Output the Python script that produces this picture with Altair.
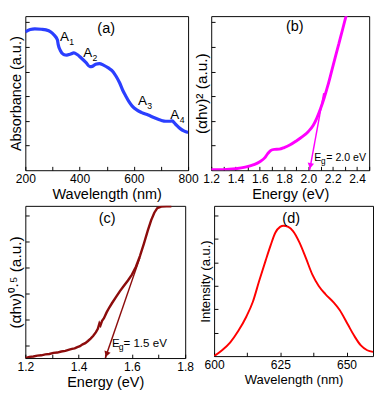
import altair as alt
import pandas as pd

FONT = "Liberation Sans"
TS = 4  # inward tick length

# ---------------- (a) absorbance ----------------
a_wavelength = [200, 218, 235, 259, 276, 294, 306, 318, 321, 329, 341, 353, 365, 379, 391, 406,
                424, 438, 447, 459, 473, 488, 506, 524, 535, 547, 559, 571, 582, 594, 612, 629,
                653, 676, 700, 718, 732, 741, 753, 771, 786, 800]
a_absorbance = [0.897, 0.913, 0.917, 0.915, 0.911, 0.897, 0.877, 0.847, 0.817, 0.777, 0.751,
                0.747, 0.753, 0.761, 0.751, 0.728, 0.698, 0.672, 0.674, 0.688, 0.692, 0.682,
                0.664, 0.638, 0.608, 0.569, 0.519, 0.479, 0.445, 0.416, 0.390, 0.374, 0.358,
                0.340, 0.324, 0.318, 0.318, 0.320, 0.300, 0.270, 0.254, 0.245]
a_peak_wl = [344, 430, 632, 751]
a_peak_y = [0.862, 0.760, 0.447, 0.355]
a_peak_main = ["A", "A", "A", "A"]
a_peak_sub = ["1", "2", "3", "4"]

# ---------------- (b) (alpha h nu)^2 ----------------
b_energy = [1.20, 1.30, 1.40, 1.48, 1.55, 1.60, 1.64, 1.665, 1.69, 1.72, 1.76, 1.80, 1.85,
            1.90, 1.95, 2.00, 2.04, 2.07, 2.10, 2.13, 2.16, 2.19, 2.22, 2.25, 2.28, 2.31, 2.33]
b_value = [0.003, 0.004, 0.010, 0.020, 0.036, 0.055, 0.080, 0.108, 0.128, 0.135, 0.137, 0.147,
           0.165, 0.190, 0.218, 0.252, 0.292, 0.340, 0.400, 0.470, 0.550, 0.640, 0.730, 0.820,
           0.910, 1.000, 1.050]
b_fit_energy = [2.126, 2.01]
b_fit_value = [0.50, 0.0]
b_head_energy = [2.016]
b_head_value = [0.028]
b_eg_energy = [2.048]
b_eg_value = [0.077]

# ---------------- (c) (alpha h nu)^0.5 ----------------
c_energy = [1.200, 1.215, 1.230, 1.245, 1.260, 1.275, 1.290, 1.305, 1.320, 1.335, 1.350, 1.365,
            1.375, 1.385, 1.395, 1.405, 1.415, 1.425, 1.435, 1.445, 1.455, 1.465, 1.472, 1.478,
            1.482, 1.488, 1.495, 1.505, 1.515, 1.525, 1.540, 1.555, 1.570, 1.585, 1.600, 1.615,
            1.630, 1.645, 1.660, 1.672, 1.684, 1.695, 1.710, 1.730, 1.748]
c_value = [0.000, 0.008, 0.010, 0.016, 0.018, 0.024, 0.027, 0.034, 0.036, 0.043, 0.047, 0.055,
           0.060, 0.064, 0.072, 0.078, 0.090, 0.098, 0.112, 0.128, 0.146, 0.170, 0.192, 0.228,
           0.215, 0.245, 0.262, 0.300, 0.332, 0.360, 0.400, 0.440, 0.475, 0.510, 0.548, 0.600,
           0.670, 0.752, 0.840, 0.905, 0.955, 0.985, 0.995, 0.997, 0.998]
c_fit_energy = [1.63, 1.50]
c_fit_value = [0.66, 0.0]
c_head_energy = [1.505]
c_head_value = [0.025]
c_eg_energy = [1.525]
c_eg_value = [0.097]

# ---------------- (d) PL intensity ----------------
d_wavelength = [600, 603, 606.1, 609.1, 612.2, 614.6, 617, 619.5, 621.3, 623.1, 624.9, 626.2,
                628, 629.8, 632.2, 634.7, 637.1, 639.5, 642, 645, 647.4, 650.5, 652.9, 655.4,
                657.8, 660]
d_intensity = [0.0, 0.039, 0.092, 0.167, 0.264, 0.36, 0.5, 0.639, 0.735, 0.821, 0.86, 0.868,
               0.86, 0.832, 0.757, 0.65, 0.542, 0.467, 0.413, 0.36, 0.307, 0.21, 0.135, 0.071,
               0.039, 0.028]

# panel tags
tag_text = ["(a)", "(b)", "(c)", "(d)"]
tag_x = [498, 1.888, 1.507, 629.1]
tag_y = [0.925, 0.937, 0.920, 0.920]

# tick positions / labels
a_xticks = [200, 300, 400, 500, 600, 700, 800]
b_xticks = [1.2, 1.3, 1.4, 1.5, 1.6, 1.7, 1.8, 1.9, 2.0, 2.1, 2.2, 2.3, 2.4, 2.5]
c_xticks = [1.2, 1.3, 1.4, 1.5, 1.6, 1.7, 1.8]
d_xticks = [600, 612.5, 625, 637.5, 650]
a_yticks = [0.16, 0.32, 0.48, 0.64, 0.80, 0.96]
b_yticks = [0.16, 0.32, 0.48, 0.64, 0.80, 0.96]
c_yticks = [0.085, 0.255, 0.425, 0.595, 0.765, 0.935]
d_yticks = [0.156, 0.312, 0.468, 0.624, 0.780, 0.936]


def bottom_axis(values, fmt, expr, title, tsize):
    return alt.Axis(orient="bottom", values=values, format=fmt, labelExpr=expr,
                    tickSize=TS, offset=-TS, domain=False, grid=False,
                    tickColor="black", tickWidth=1,
                    labelFont=FONT, labelFontSize=12.5, labelColor="black", labelPadding=3,
                    labelFlush=False, labelOverlap=False,
                    title=title, titleFont=FONT, titleFontSize=tsize, titleLimit=400,
                    titleFontWeight="normal", titleColor="black", titlePadding=2)


def left_axis(values, title, tsize):
    return alt.Axis(orient="left", values=values, labels=False,
                    tickSize=TS, offset=-TS, domain=False, grid=False,
                    tickColor="black", tickWidth=1,
                    title=title, titleFont=FONT, titleFontSize=tsize, titleLimit=400,
                    titleFontWeight="normal", titleColor="black", titlePadding=1)


def enc(xs, ys, xax, yax):
    return dict(x=alt.X("x:Q", scale=xs, axis=xax), y=alt.Y("y:Q", scale=ys, axis=yax))


def text_layer(e, xv, yv, tv, size, dx=0, dy=0, align="center"):
    df = pd.DataFrame({"x": xv, "y": yv, "t": tv})
    return alt.Chart(df).mark_text(font=FONT, fontSize=size, dx=dx, dy=dy, align=align,
                                   baseline="middle", color="black").encode(
        text="t:N", **e)


int_expr = "datum.value % {} === 0 ? datum.label : ''"
half_expr = "round(datum.value * 10) % 2 === 0 ? datum.label : ''"

# ---------- panel a ----------
ea = enc(alt.Scale(domain=[200, 800], nice=False, zero=False),
         alt.Scale(domain=[0, 1], nice=False, zero=False),
         bottom_axis(a_xticks, "d", int_expr.format(200), "Wavelength (nm)", 15),
         left_axis(a_yticks, "Absorbance (a.u.)", 15))
pa = alt.layer(
    alt.Chart(pd.DataFrame({"x": a_wavelength, "y": a_absorbance})).mark_line(
        color="#2b3fff", strokeWidth=3.3, interpolate="monotone", clip=True).encode(**ea),
    text_layer(ea, a_peak_wl, a_peak_y, a_peak_main, 14),
    text_layer(ea, a_peak_wl, a_peak_y, a_peak_sub, 9, dx=5, dy=5, align="left"),
    text_layer(ea, [tag_x[0]], [tag_y[0]], [tag_text[0]], 15),
).properties(width=169, height=160)

# ---------- panel b ----------
eb = enc(alt.Scale(domain=[1.2, 2.5], nice=False, zero=False),
         alt.Scale(domain=[0, 1], nice=False, zero=False),
         bottom_axis(b_xticks, ".1f", half_expr, "Energy (eV)", 15),
         left_axis(b_yticks, "(\u03b1h\u03bd)\u00b2 (a.u.)", 16))
pb = alt.layer(
    alt.Chart(pd.DataFrame({"x": b_energy, "y": b_value})).mark_line(
        color="#ff00ff", strokeWidth=3, interpolate="monotone", clip=True).encode(**eb),
    alt.Chart(pd.DataFrame({"x": b_fit_energy, "y": b_fit_value})).mark_line(
        color="#ff00ff", strokeWidth=1.5).encode(**eb),
    alt.Chart(pd.DataFrame({"x": b_head_energy, "y": b_head_value})).mark_point(
        shape="triangle-down", filled=True, size=45, angle=10, color="#ff00ff",
        opacity=1).encode(**eb),
    text_layer(eb, b_eg_energy, b_eg_value, ["E"], 11, align="left"),
    text_layer(eb, b_eg_energy, b_eg_value, ["g"], 8.5, dx=7, dy=3.3, align="left"),
    text_layer(eb, b_eg_energy, b_eg_value, ["= 2.0 eV"], 11, dx=12.5, align="left"),
    text_layer(eb, [tag_x[1]], [tag_y[1]], [tag_text[1]], 15),
).properties(width=164, height=160)

# ---------- panel c ----------
ec = enc(alt.Scale(domain=[1.2, 1.8], nice=False, zero=False),
         alt.Scale(domain=[0, 1], nice=False, zero=False),
         bottom_axis(c_xticks, ".1f", half_expr, "Energy (eV)", 15),
         left_axis(c_yticks, "(\u03b1h\u03bd)\u2070\u00b7\u2075 (a.u.)", 16))
pc = alt.layer(
    alt.Chart(pd.DataFrame({"x": c_energy, "y": c_value})).mark_line(
        color="#8c0c0c", strokeWidth=2.5, clip=True).encode(**ec),
    alt.Chart(pd.DataFrame({"x": c_fit_energy, "y": c_fit_value})).mark_line(
        color="#8c0c0c", strokeWidth=1.5).encode(**ec),
    alt.Chart(pd.DataFrame({"x": c_head_energy, "y": c_head_value})).mark_point(
        shape="triangle-down", filled=True, size=45, angle=19, color="#8c0c0c",
        opacity=1).encode(**ec),
    text_layer(ec, c_eg_energy, c_eg_value, ["E"], 12, align="left"),
    text_layer(ec, c_eg_energy, c_eg_value, ["g"], 9, dx=7, dy=3.5, align="left"),
    text_layer(ec, c_eg_energy, c_eg_value, ["= 1.5 eV"], 12, dx=12, align="left"),
    text_layer(ec, [tag_x[2]], [tag_y[2]], [tag_text[2]], 15),
).properties(width=166, height=158)

# ---------- panel d ----------
ed = enc(alt.Scale(domain=[600, 660], nice=False, zero=False),
         alt.Scale(domain=[0, 1], nice=False, zero=False),
         bottom_axis(d_xticks, "d", int_expr.format(25), "Wavelength (nm)", 13.5),
         left_axis(d_yticks, "Intensity (a.u.)", 13.5))
pd_ = alt.layer(
    alt.Chart(pd.DataFrame({"x": d_wavelength, "y": d_intensity})).mark_line(
        color="#ff0000", strokeWidth=2, interpolate="monotone", clip=True).encode(**ed),
    text_layer(ed, [tag_x[3]], [tag_y[3]], [tag_text[3]], 15),
).properties(width=165, height=156)

row1 = alt.hconcat(pa, pb, spacing=24, bounds="flush")
row2 = alt.hconcat(pc, pd_, spacing=30, bounds="flush")
chart = alt.vconcat(row1, row2, spacing=3).properties(
    padding=0
).configure_view(stroke="black", strokeWidth=1)

chart.save("out.html", embed_options={"renderer": "svg", "actions": False})
